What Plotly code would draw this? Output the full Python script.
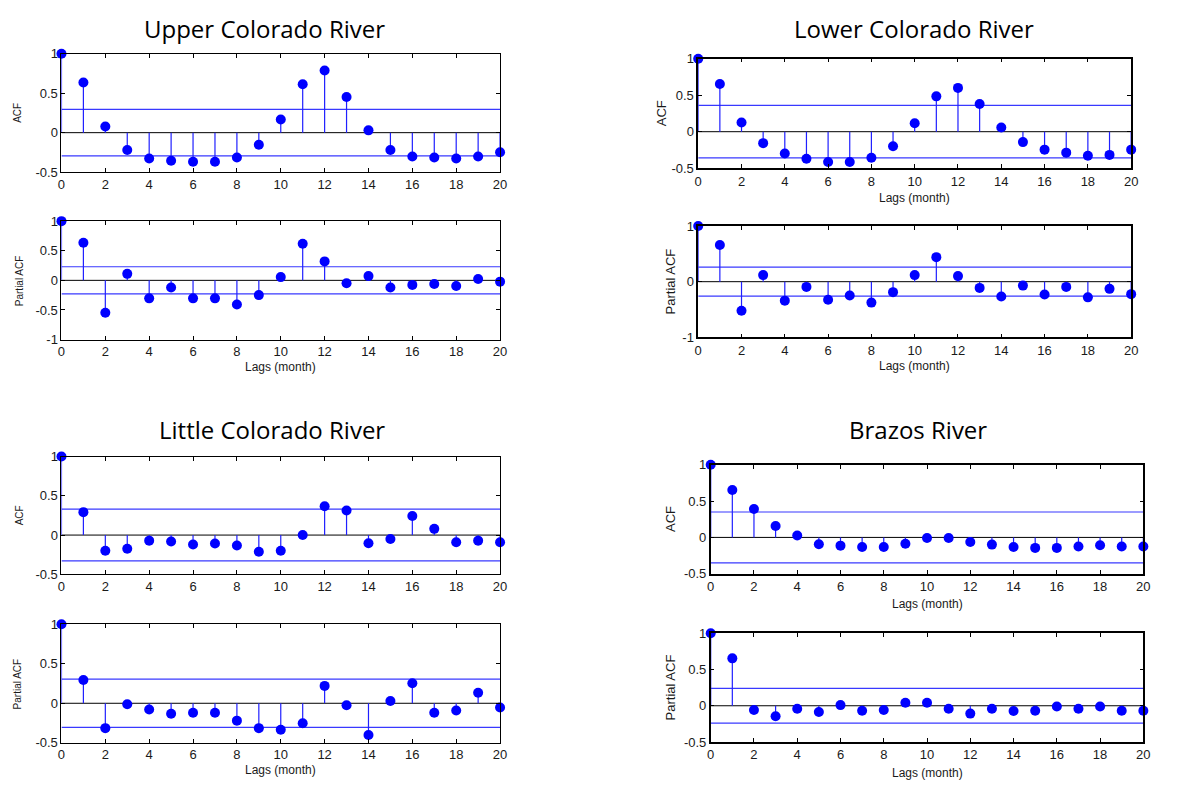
import plotly.graph_objects as go

# ---- data -------------------------------------------------------------
lags = list(range(21))
xtick_vals = [0, 2, 4, 6, 8, 10, 12, 14, 16, 18, 20]

upper_acf = [1.0, 0.635, 0.079, -0.22, -0.328, -0.357, -0.369, -0.369, -0.315, -0.153, 0.166,
             0.614, 0.788, 0.452, 0.029, -0.22, -0.303, -0.315, -0.328, -0.303, -0.249]
upper_pacf = [1.0, 0.635, -0.547, 0.11, -0.304, -0.122, -0.304, -0.304, -0.409, -0.249, 0.055,
              0.619, 0.32, -0.05, 0.072, -0.122, -0.077, -0.061, -0.094, 0.022, -0.022]
lower_acf = [1.0, 0.654, 0.125, -0.157, -0.30, -0.372, -0.416, -0.416, -0.358, -0.20, 0.116,
             0.484, 0.60, 0.38, 0.058, -0.143, -0.246, -0.287, -0.331, -0.318, -0.246]
lower_pacf = [1.0, 0.659, -0.524, 0.118, -0.341, -0.094, -0.324, -0.247, -0.376, -0.188, 0.118,
              0.441, 0.10, -0.112, -0.265, -0.071, -0.229, -0.094, -0.282, -0.129, -0.224]
little_acf = [1.0, 0.292, -0.20, -0.175, -0.071, -0.083, -0.121, -0.108, -0.133, -0.212, -0.20,
              0.0, 0.367, 0.312, -0.104, -0.05, 0.242, 0.079, -0.092, -0.071, -0.092]
little_pacf = [1.0, 0.294, -0.315, -0.012, -0.079, -0.133, -0.12, -0.12, -0.22, -0.315, -0.336,
               -0.253, 0.22, -0.025, -0.402, 0.029, 0.253, -0.12, -0.091, 0.133, -0.054]
brazos_acf = [1.0, 0.653, 0.392, 0.158, 0.027, -0.095, -0.113, -0.131, -0.131, -0.086, -0.009,
              -0.009, -0.063, -0.099, -0.131, -0.144, -0.144, -0.126, -0.108, -0.126, -0.126]
brazos_pacf = [1.0, 0.653, -0.059, -0.144, -0.041, -0.086, 0.009, -0.068, -0.059, 0.041, 0.041,
               -0.041, -0.108, -0.041, -0.072, -0.068, -0.009, -0.041, -0.009, -0.068, -0.068]

# approximate 95% confidence bounds (+/-)
upper_acf_ci, upper_pacf_ci = 0.295, 0.23
lower_acf_ci, lower_pacf_ci = 0.36, 0.26
little_acf_ci, little_pacf_ci = 0.33, 0.305
brazos_acf_ci, brazos_pacf_ci = 0.35, 0.24

titles = ["Upper Colorado River", "Lower Colorado River", "Little Colorado River", "Brazos River"]

# ---- layout helpers ---------------------------------------------------
W, H = 1188, 789
BLUE = "#0000ff"
BOUND_BLUE = "#3838ff"
STEM_BLUE = "#2020ff"
SANS = "Liberation Sans, Arial, sans-serif"
TICK_FONT = dict(family=SANS, size=13, color="#1a1a1a")


def xdom(x0, x1):
    return [x0 / W, x1 / W]


def ydom(y0, y1):
    return [1 - y1 / H, 1 - y0 / H]


# each panel: values, bound, pixel box, y range/ticks, y title, y title x, x title y, frame width
panels = [
    dict(v=upper_acf, ci=upper_acf_ci, box=(58, 500.7, 47.7, 168.3), yr=[-0.5, 1],
         yt=[-0.5, 0, 0.5, 1], yl="ACF", ylx=14, ylsize=10, xl=None, lw=1),
    dict(v=upper_pacf, ci=upper_pacf_ci, box=(58, 500.7, 218.3, 339), yr=[-1, 1],
         yt=[-1, -0.5, 0, 0.5, 1], yl="Partial ACF", ylx=15, ylsize=10, xl=367, lw=1),
    dict(v=lower_acf, ci=lower_acf_ci, box=(700.7, 1137.7, 52.7, 164.3), yr=[-0.5, 1],
         yt=[-0.5, 0, 0.5, 1], yl="ACF", ylx=664, ylsize=13, xl=195, lw=1.5),
    dict(v=lower_pacf, ci=lower_pacf_ci, box=(700.7, 1137.7, 223.3, 336.7), yr=[-1, 1],
         yt=[-1, 0, 1], yl="Partial ACF", ylx=673, ylsize=13, xl=366, lw=1.5),
    dict(v=little_acf, ci=little_acf_ci, box=(58, 500.7, 458.3, 578.3), yr=[-0.5, 1],
         yt=[-0.5, 0, 0.5, 1], yl="ACF", ylx=16, ylsize=10, xl=None, lw=1),
    dict(v=little_pacf, ci=little_pacf_ci, box=(58, 500.7, 629.3, 750), yr=[-0.5, 1],
         yt=[-0.5, 0, 0.5, 1], yl="Partial ACF", ylx=14, ylsize=10, xl=778, lw=1),
    dict(v=brazos_acf, ci=brazos_acf_ci, box=(713.3, 1150, 466.7, 577.7), yr=[-0.5, 1],
         yt=[-0.5, 0, 0.5, 1], yl="ACF", ylx=673, ylsize=13, xl=609, lw=1.5),
    dict(v=brazos_pacf, ci=brazos_pacf_ci, box=(713.3, 1150, 638.3, 749.3), yr=[-0.5, 1],
         yt=[-0.5, 0, 0.5, 1], yl="Partial ACF", ylx=673, ylsize=13, xl=781, lw=1.5),
]

title_pos = [(263, 22), (919, 22), (271, 431), (923, 431)]


def fmt(t):
    return "0" if t == 0 else ("%g" % t)


fig = go.Figure()
layout = dict(width=W, height=H, margin=dict(l=0, r=0, t=0, b=0),
              paper_bgcolor="white", plot_bgcolor="white", showlegend=False)
annotations = []

for i, p in enumerate(panels, start=1):
    x0, x1, y0, y1 = p["box"]
    xa = "x" if i == 1 else f"x{i}"
    ya = "y" if i == 1 else f"y{i}"
    xkey = "xaxis" if i == 1 else f"xaxis{i}"
    ykey = "yaxis" if i == 1 else f"yaxis{i}"

    axis_style = dict(ticks="inside", ticklen=4, tickcolor="black", showline=True,
                      linecolor="black", linewidth=p["lw"], mirror="ticks", showgrid=False,
                      zeroline=False, tickfont=TICK_FONT)
    layout[xkey] = dict(domain=xdom(x0, x1), anchor=ya, range=[0, 20],
                        tickvals=xtick_vals, ticktext=[str(t) for t in xtick_vals],
                        **axis_style)
    layout[ykey] = dict(domain=ydom(y0, y1), anchor=xa, range=p["yr"],
                        tickvals=p["yt"], ticktext=[fmt(t) for t in p["yt"]],
                        **axis_style)

    # confidence bounds
    for b in (p["ci"], -p["ci"]):
        fig.add_trace(go.Scatter(x=[0, 20], y=[b, b], mode="lines", xaxis=xa, yaxis=ya,
                                 line=dict(color=BOUND_BLUE, width=1.2), hoverinfo="skip"))
    # zero line
    fig.add_trace(go.Scatter(x=[0, 20], y=[0, 0], mode="lines", xaxis=xa, yaxis=ya,
                             line=dict(color="black", width=1), hoverinfo="skip"))
    # stems
    sx, sy = [], []
    for lag, val in zip(lags, p["v"]):
        sx += [lag, lag, None]
        sy += [0, val, None]
    fig.add_trace(go.Scatter(x=sx, y=sy, mode="lines", xaxis=xa, yaxis=ya,
                             line=dict(color=STEM_BLUE, width=1.2), hoverinfo="skip",
                             cliponaxis=False))
    # markers
    fig.add_trace(go.Scatter(x=lags, y=p["v"], mode="markers", xaxis=xa, yaxis=ya,
                             marker=dict(color=BLUE, size=10), cliponaxis=False))

    annotations.append(dict(text=p["yl"], x=p["ylx"] / W, y=1 - ((y0 + y1) / 2) / H,
                            xref="paper", yref="paper", xanchor="center", yanchor="middle",
                            textangle=-90, showarrow=False,
                            font=dict(family=SANS, size=p["ylsize"], color="#1a1a1a")))
    if p["xl"] is not None:
        annotations.append(dict(text="Lags (month)", x=((x0 + x1) / 2) / W, y=1 - p["xl"] / H,
                                xref="paper", yref="paper", xanchor="center",
                                yanchor="middle", showarrow=False,
                                font=dict(family=SANS, size=12, color="#1a1a1a")))

for t, (tx, ty) in zip(titles, title_pos):
    annotations.append(dict(text=t, x=tx / W, y=1 - ty / H, xref="paper", yref="paper",
                            xanchor="center", yanchor="middle", showarrow=False,
                            font=dict(family="Open Sans, sans-serif", size=24, color="black")))

layout["annotations"] = annotations
fig.update_layout(**layout)
fig.write_html("out.html")
